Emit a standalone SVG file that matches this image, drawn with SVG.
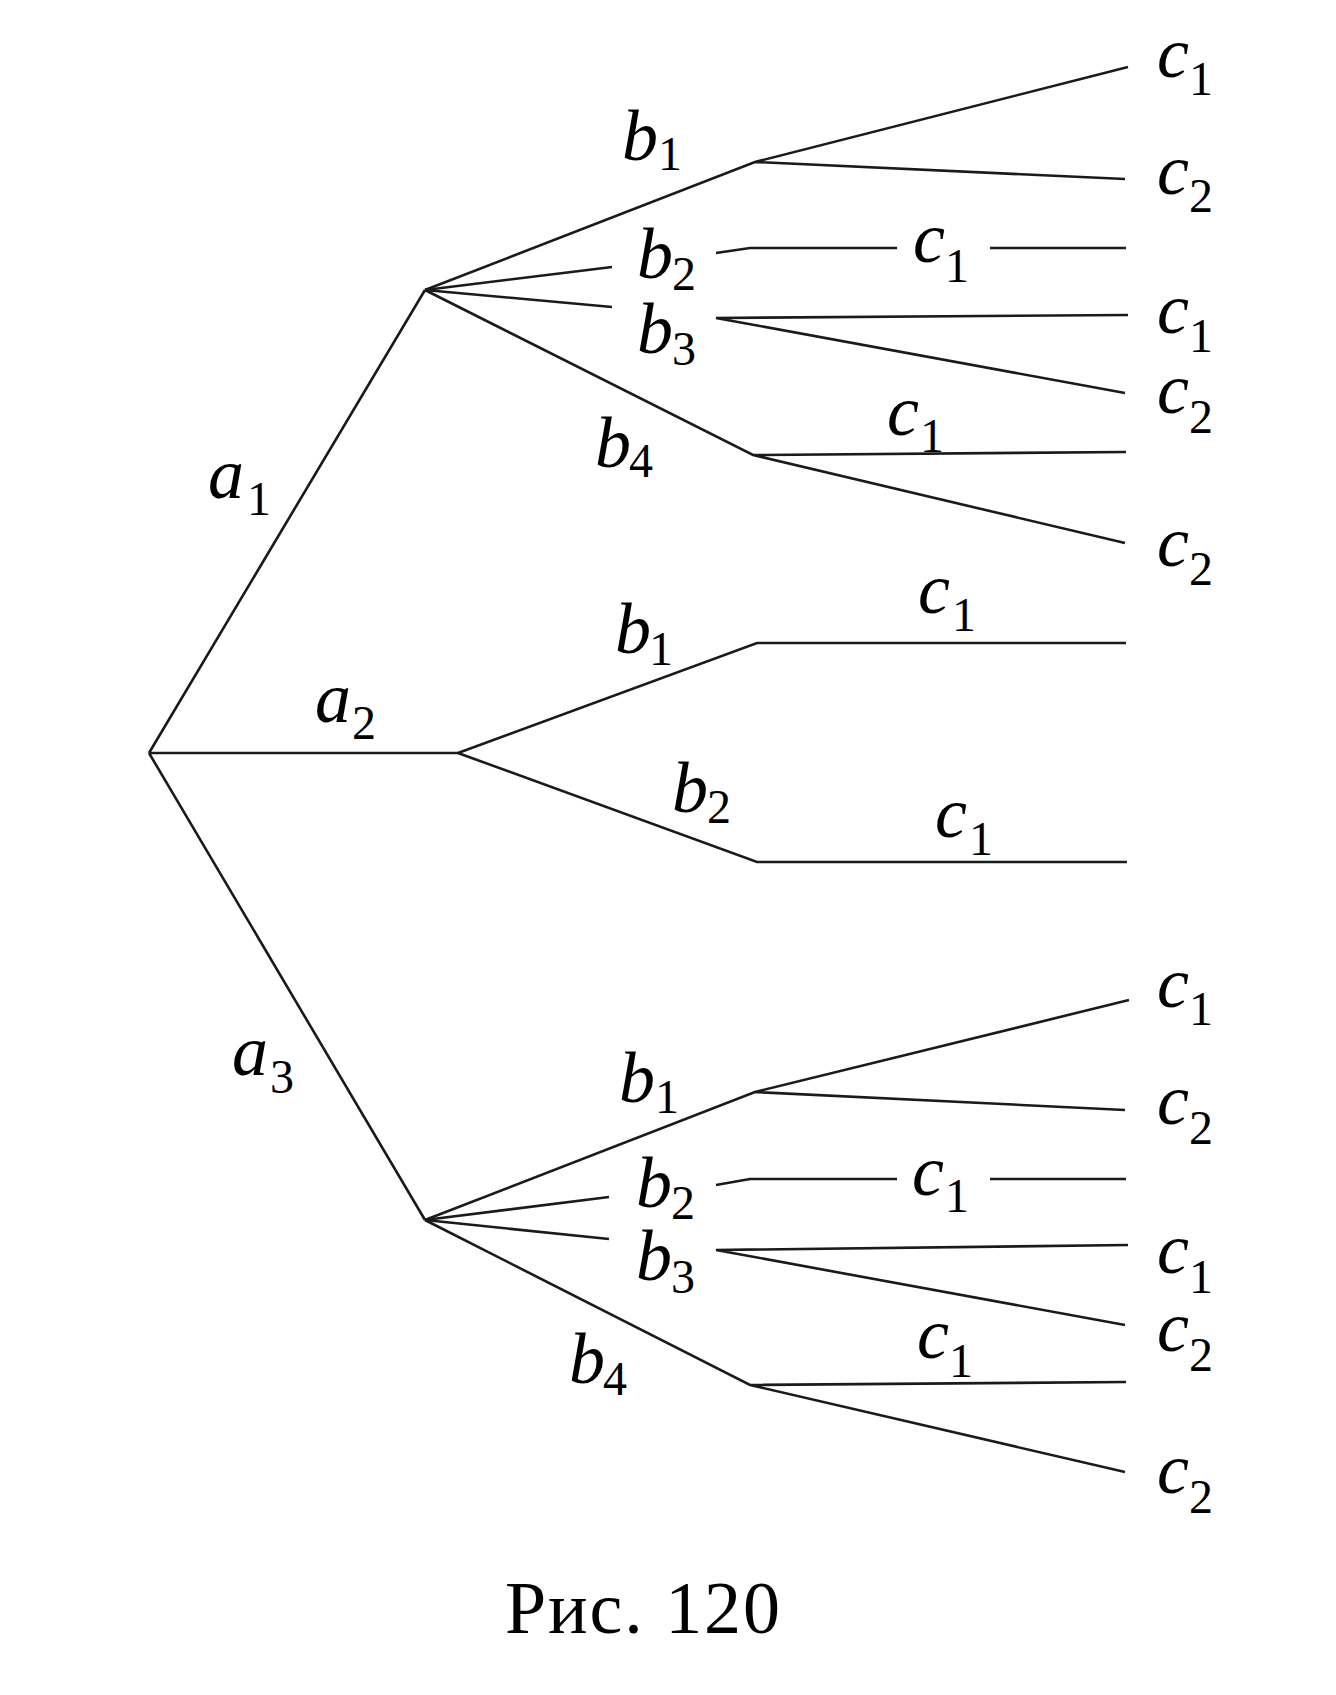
<svg xmlns="http://www.w3.org/2000/svg" width="1336" height="1695" viewBox="0 0 1336 1695">
<style>
.e{fill:none;stroke:#1a1a1a;stroke-width:2.6;stroke-linejoin:miter;stroke-linecap:butt}
.m{font-family:"Liberation Serif","Times New Roman",serif;font-style:italic;font-size:72px;fill:#000}
.s{font-style:normal;font-size:48px}
.cap{font-family:"Liberation Serif","Times New Roman",serif;font-size:74px;fill:#000}
</style>
<rect width="1336" height="1695" fill="#fff"/>
<g id="connectors">
<path class="e" d="M149,753 L425,290 M149,753 L458,753 M149,753 L425,1220"/>
<path class="e" d="M425,290 L755,162 L1128,67 M755,162 L1125,179"/>
<path class="e" d="M425,290 L612,267 M716,253 L750,248 L897,248 M990,248 L1126,248"/>
<path class="e" d="M425,290 L612,307 M716,318 L1128,315 M716,318 L1125,393"/>
<path class="e" d="M425,290 L753,455 L1126,452 M753,455 L1125,543"/>
<path class="e" d="M458,753 L757,643 L1126,643 M458,753 L757,862 L1127,862"/>
<path class="e" d="M425,1220 L755,1092 L1129,1000 M755,1092 L1125,1110"/>
<path class="e" d="M425,1220 L609,1197 M716,1185 L750,1179 L897,1179 M990,1179 L1126,1179"/>
<path class="e" d="M425,1220 L609,1239 M716,1250 L1128,1245 M716,1250 L1125,1325"/>
<path class="e" d="M425,1220 L750,1385 L1126,1382 M750,1385 L1125,1472"/>
</g>
<g id="a1"><text class="m" x="208" y="498">a<tspan class="s" x="247" y="515">1</tspan></text></g>
<g id="a2"><text class="m" x="315" y="722">a<tspan class="s" x="352" y="739">2</tspan></text></g>
<g id="a3"><text class="m" x="232" y="1075">a<tspan class="s" x="270" y="1093">3</tspan></text></g>
<g id="b1-top"><text class="m" x="622" y="160">b<tspan class="s" x="658" y="170">1</tspan></text></g>
<g id="b2-top"><text class="m" x="637" y="278">b<tspan class="s" x="672" y="290">2</tspan></text></g>
<g id="b3-top"><text class="m" x="637" y="353">b<tspan class="s" x="672" y="365">3</tspan></text></g>
<g id="b4-top"><text class="m" x="595" y="467">b<tspan class="s" x="629" y="477">4</tspan></text></g>
<g id="b1-mid"><text class="m" x="615" y="653">b<tspan class="s" x="649" y="665">1</tspan></text></g>
<g id="b2-mid"><text class="m" x="672" y="812">b<tspan class="s" x="707" y="823">2</tspan></text></g>
<g id="b1-bot"><text class="m" x="619" y="1102">b<tspan class="s" x="655" y="1113">1</tspan></text></g>
<g id="b2-bot"><text class="m" x="636" y="1207">b<tspan class="s" x="671" y="1219">2</tspan></text></g>
<g id="b3-bot"><text class="m" x="636" y="1280">b<tspan class="s" x="671" y="1293">3</tspan></text></g>
<g id="b4-bot"><text class="m" x="569" y="1383">b<tspan class="s" x="603" y="1395">4</tspan></text></g>
<g id="c1-t1"><text class="m" x="1157" y="77">c<tspan class="s" x="1189" y="95">1</tspan></text></g>
<g id="c2-t1"><text class="m" x="1157" y="194">c<tspan class="s" x="1189" y="212">2</tspan></text></g>
<g id="c1-t2"><text class="m" x="913" y="262">c<tspan class="s" x="945" y="282">1</tspan></text></g>
<g id="c1-t3"><text class="m" x="1157" y="333">c<tspan class="s" x="1189" y="352">1</tspan></text></g>
<g id="c2-t3"><text class="m" x="1157" y="413">c<tspan class="s" x="1189" y="433">2</tspan></text></g>
<g id="c1-t4"><text class="m" x="887" y="435">c<tspan class="s" x="920" y="452">1</tspan></text></g>
<g id="c2-t4"><text class="m" x="1157" y="566">c<tspan class="s" x="1189" y="585">2</tspan></text></g>
<g id="c1-m1"><text class="m" x="918" y="613">c<tspan class="s" x="952" y="631">1</tspan></text></g>
<g id="c1-m2"><text class="m" x="935" y="837">c<tspan class="s" x="969" y="855">1</tspan></text></g>
<g id="c1-b1"><text class="m" x="1157" y="1007">c<tspan class="s" x="1189" y="1025">1</tspan></text></g>
<g id="c2-b1"><text class="m" x="1157" y="1124">c<tspan class="s" x="1189" y="1144">2</tspan></text></g>
<g id="c1-b2"><text class="m" x="912" y="1195">c<tspan class="s" x="945" y="1212">1</tspan></text></g>
<g id="c1-b3"><text class="m" x="1157" y="1273">c<tspan class="s" x="1189" y="1293">1</tspan></text></g>
<g id="c2-b3"><text class="m" x="1157" y="1351">c<tspan class="s" x="1189" y="1371">2</tspan></text></g>
<g id="c1-b4"><text class="m" x="917" y="1358">c<tspan class="s" x="949" y="1377">1</tspan></text></g>
<g id="c2-b4"><text class="m" x="1157" y="1493">c<tspan class="s" x="1189" y="1513">2</tspan></text></g>
<g id="caption"><text class="cap" x="505" y="1633" textLength="275" lengthAdjust="spacing">Рис. 120</text></g>
</svg>
